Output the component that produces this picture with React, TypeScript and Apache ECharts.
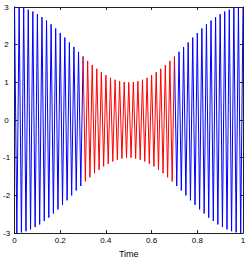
import React, { useEffect, useRef } from "react";
import * as echarts from "echarts";

// Extremum times (peaks and troughs alternate)
const times: number[] = [
  0.0, 0.01, 0.02, 0.03, 0.04, 0.05, 0.06, 0.07, 0.08, 0.09,
  0.1, 0.11, 0.12, 0.13, 0.14, 0.15, 0.16, 0.17, 0.18, 0.19,
  0.2, 0.21, 0.22, 0.23, 0.24, 0.25, 0.26, 0.27, 0.28, 0.29,
  0.3, 0.31, 0.32, 0.33, 0.34, 0.35, 0.36, 0.37, 0.38, 0.39,
  0.4, 0.41, 0.42, 0.43, 0.44, 0.45, 0.46, 0.47, 0.48, 0.49,
  0.5, 0.51, 0.52, 0.53, 0.54, 0.55, 0.56, 0.57, 0.58, 0.59,
  0.6, 0.61, 0.62, 0.63, 0.64, 0.65, 0.66, 0.67, 0.68, 0.69,
  0.7, 0.71, 0.72, 0.73, 0.74, 0.75, 0.76, 0.77, 0.78, 0.79,
  0.8, 0.81, 0.82, 0.83, 0.84, 0.85, 0.86, 0.87, 0.88, 0.89,
  0.9, 0.91, 0.92, 0.93, 0.94, 0.95, 0.96, 0.97, 0.98, 0.99,
  1.0,
];

// Signal value at each extremum
const values: number[] = [
  3.0, -3.0, 2.99, -2.98, 2.97, -2.95, 2.93, -2.9, 2.88, -2.84,
  2.81, -2.77, 2.73, -2.68, 2.64, -2.59, 2.54, -2.48, 2.43, -2.37,
  2.31, -2.25, 2.19, -2.13, 2.06, -2.0, 1.94, -1.87, 1.81, -1.75,
  1.69, -1.63, 1.57, -1.52, 1.46, -1.41, 1.36, -1.32, 1.27, -1.23,
  1.19, -1.16, 1.12, -1.1, 1.07, -1.05, 1.03, -1.02, 1.01, -1.0,
  1.0, -1.0, 1.01, -1.02, 1.03, -1.05, 1.07, -1.1, 1.12, -1.16,
  1.19, -1.23, 1.27, -1.32, 1.36, -1.41, 1.46, -1.52, 1.57, -1.63,
  1.69, -1.75, 1.81, -1.87, 1.94, -2.0, 2.06, -2.13, 2.19, -2.25,
  2.31, -2.37, 2.43, -2.48, 2.54, -2.59, 2.64, -2.68, 2.73, -2.77,
  2.81, -2.84, 2.88, -2.9, 2.93, -2.95, 2.97, -2.98, 2.99, -3.0,
  3.0,
];

// Highlighted (red) time window
const redStart = 0.3;
const redEnd = 0.7;

const xTicks = { min: 0, max: 1, interval: 0.2 };
const yTicks = { min: -3, max: 3, interval: 1 };

const FONT = "'Liberation Sans', Arial, Helvetica, sans-serif";

export default function App() {
  const ref = useRef<HTMLDivElement>(null);

  useEffect(() => {
    document.body.style.margin = "0";
    if (!ref.current) return;
    const chart = echarts.init(ref.current, undefined, { renderer: "svg" });

    const pts = times.map((t, i) => [t, values[i]]);
    const before = pts.filter((p) => p[0] <= redStart);
    const mid = pts.filter((p) => p[0] >= redStart && p[0] <= redEnd);
    const after = pts.filter((p) => p[0] >= redEnd);

    const axisLine = { show: true, onZero: false, lineStyle: { color: "#222", width: 1 } };
    const tick = { show: true, inside: true, length: 3, lineStyle: { color: "#222" } };

    const lineSeries = (data: number[][], color: string) => ({
      type: "line",
      data,
      showSymbol: false,
      symbol: "none",
      xAxisIndex: 0,
      yAxisIndex: 0,
      lineStyle: { color, width: 1 },
      itemStyle: { color },
    });

    chart.setOption({
      animation: false,
      backgroundColor: "#ffffff",
      grid: { left: 13, right: 6, top: 7, bottom: 24, containLabel: false },
      xAxis: [
        {
          type: "value",
          position: "bottom",
          ...xTicks,
          axisLine,
          axisTick: tick,
          splitLine: { show: false },
          axisLabel: { fontSize: 8, color: "#000", margin: 3, fontFamily: FONT },
          name: "Time",
          nameLocation: "middle",
          nameGap: 15,
          nameTextStyle: { fontSize: 9, color: "#000", fontFamily: FONT },
        },
        {
          type: "value",
          position: "top",
          ...xTicks,
          axisLine,
          axisTick: tick,
          splitLine: { show: false },
          axisLabel: { show: false },
        },
      ],
      yAxis: [
        {
          type: "value",
          position: "left",
          ...yTicks,
          axisLine,
          axisTick: tick,
          splitLine: { show: false },
          axisLabel: {
            fontSize: 8,
            color: "#000",
            margin: 8,
            align: "center",
            fontFamily: FONT,
          },
        },
        {
          type: "value",
          position: "right",
          ...yTicks,
          axisLine,
          axisTick: tick,
          splitLine: { show: false },
          axisLabel: { show: false },
        },
      ],
      series: [
        lineSeries(before, "#0000ff"),
        lineSeries(after, "#0000ff"),
        lineSeries(mid, "#ff0000"),
      ],
    });

    return () => chart.dispose();
  }, []);

  return <div ref={ref} style={{ width: 249, height: 263 }} />;
}
